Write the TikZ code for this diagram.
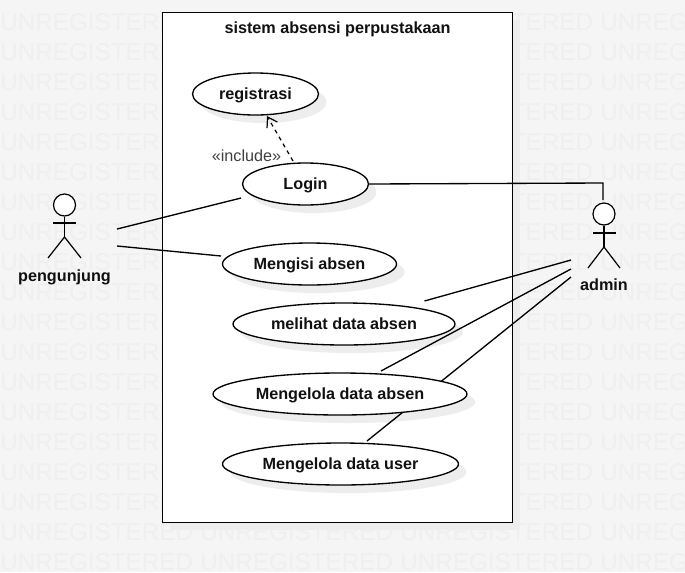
\documentclass[tikz,border=0pt]{standalone}
\usepackage{fontspec}
\setmainfont{Liberation Sans}
\usetikzlibrary{shapes.geometric,arrows.meta}
\definecolor{pagebg}{HTML}{F5F5F5}
\definecolor{wm}{HTML}{EFEFEF}
\definecolor{softgray}{HTML}{EDEDED}
\definecolor{ink}{HTML}{111111}
\tikzset{
  x=0.75pt,y=-0.75pt,
  every node/.style={font=\fontsize{12.15pt}{14pt}\selectfont\bfseries,text=ink,text height=10pt,text depth=2pt},
  uc/.style={ellipse,draw=black,fill=white,line width=1pt,inner sep=0pt,minimum height=31.5pt},
  ucshadow/.style={ellipse,fill=softgray,draw=none,inner sep=0pt,minimum height=31.5pt},
  link/.style={draw=black,line width=1pt},
  stick/.style={draw=black,line width=0.9pt},
  headcircle/.style={circle,draw=black,fill=white,line width=0.9pt,minimum size=16.5pt,inner sep=0pt,text height=0pt,text depth=0pt},
  watermark/.style={anchor=base west,inner sep=0pt,text=wm,font=\fontsize{18.2pt}{20pt}\selectfont},
}
\begin{document}
\begin{tikzpicture}
\useasboundingbox (0,0) rectangle (685,572);
\fill[pagebg] (0,0) rectangle (685,572);
% watermark
\foreach \r in {1,...,19}{
  \foreach \c in {0,...,3}{
    \node[watermark] (wm\r x\c) at ({\c*200},{\r*30}) {UNREGISTERED};
  }
}
% system boundary
\fill[softgray] (170,20) rectangle (520,530);
\node[draw=black,fill=white,line width=1pt,inner sep=0pt,minimum width=262.5pt,minimum height=382.5pt] (sys) at (337.5,267.5) {};
\node (title) at (337.5,28.5) {sistem absensi perpustakaan};
% use case shadows
\node[ucshadow,minimum width=94.5pt] (s1) at (263.5,102) {};
\node[ucshadow,minimum width=94.5pt] (s2) at (313.5,192) {};
\node[ucshadow,minimum width=130.5pt] (s3) at (317.5,272) {};
\node[ucshadow,minimum width=166.5pt] (s4) at (352,332) {};
\node[ucshadow,minimum width=190.5pt] (s5) at (348,402) {};
\node[ucshadow,minimum width=177pt] (s6) at (348.5,472) {};
% connector end points
\coordinate (pL) at (117,229);
\coordinate (pM) at (117,246);
\coordinate (loginL) at (241,198);
\coordinate (isiL) at (221,256);
\coordinate (loginR) at (369,184);
\coordinate (elbow) at (603,183);
\coordinate (adminTop) at (603,200);
\coordinate (a1) at (571,260);
\coordinate (a2) at (571,269);
\coordinate (a3) at (571,277);
\coordinate (lihatT) at (424.5,301);
\coordinate (kelolaT) at (381,371);
\coordinate (userT) at (367,441);
% the admin to user line runs behind the absen ellipse
\draw[link] (a3) -- (userT);
% use cases
\node[uc,minimum width=94.5pt] (reg) at (255.5,94) {registrasi};
\node[uc,minimum width=94.5pt] (login) at (305.5,184) {Login};
\node[uc,minimum width=130.5pt] (isi) at (309.5,264) {Mengisi absen};
\node[uc,minimum width=166.5pt] (lihat) at (344,324) {melihat data absen};
\node[uc,minimum width=190.5pt] (kelola) at (340,394) {Mengelola data absen};
\node[uc,minimum width=177pt] (user) at (340.5,464) {Mengelola data user};
% connectors
\draw[link] (pL) -- (loginL);
\draw[link] (pM) -- (isiL);
\draw[link] (loginR) -- (elbow) -- (adminTop);
\draw[link] (a1) -- (lihatT);
\draw[link] (a2) -- (kelolaT);
\coordinate (incS) at (293,161);
\coordinate (incE) at (267,116);
\draw[draw=black,line width=0.9pt,dash pattern=on 3pt off 3pt,-{Straight Barb[length=7pt,width=9pt,line width=0.9pt]}] (incS) -- (incE);
\node[font=\fontsize{12.15pt}{14pt}\selectfont,text=black!75] (inc) at (246.5,156) {«include»};
% pengunjung
\node[headcircle] (h1) at (64.5,205) {};
\draw[stick] (h1.south) -- (64.5,237) coordinate (hip1);
\draw[stick] (53,223) -- (76,223);
\draw[stick] (48,258) -- (hip1) -- (81,258);
\node (pengunjung) at (64.5,276.5) {pengunjung};
% admin
\node[headcircle] (h2) at (604,214) {};
\draw[stick] (h2.south) -- (604,247) coordinate (hip2);
\draw[stick] (593,233) -- (616,233);
\draw[stick] (588,268) -- (hip2) -- (620,268);
\node (admin) at (604,285.5) {admin};
\end{tikzpicture}
\end{document}
